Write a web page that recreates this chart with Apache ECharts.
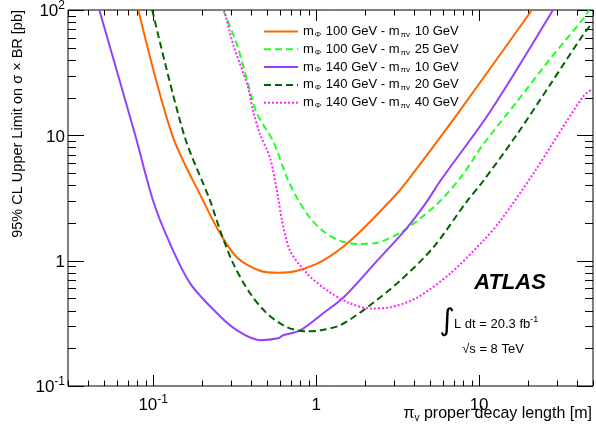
<!DOCTYPE html>
<html>
<head>
<meta charset="utf-8">
<script src="https://cdn.jsdelivr.net/npm/echarts@6/dist/echarts.min.js"></script>
<style>
html,body{margin:0;padding:0;background:#fff;}
#c{width:596px;height:437px;}
</style>
</head>
<body>
<div id="c"></div>
<script>
// ---- data (x: decay length [m], y: upper limit [pb]) ----
const mPhi100_mPi10 = [[0.081,100],[0.131,10],[0.203,2.99],[0.258,1.64],[0.327,1.06],[0.453,0.83],[0.585,0.80],[0.764,0.83],[1.10,1.0],[1.62,1.44],[2.84,2.99],[3.61,4.3],[7.33,14.7],[21.1,100]];
const mPhi100_mPi25 = [[0.269,100],[0.327,52.7],[0.394,22.3],[0.435,14.7],[0.545,8.96],[0.664,4.56],[0.764,3.16],[0.918,2.19],[1.10,1.73],[1.40,1.44],[1.79,1.36],[2.37,1.39],[3.28,1.67],[4.17,2.08],[5.77,2.99],[7.98,4.9],[10.6,8.49],[17.1,18.6],[27.3,40.8],[43.5,84.9],[47.3,100]];
const mPhi140_mPi10 = [[0.0467,100],[0.0776,10],[0.1,2.99],[0.127,1.36],[0.169,0.656],[0.247,0.379],[0.327,0.278],[0.453,0.232],[0.585,0.240],[0.628,0.254],[0.798,0.278],[1.10,0.379],[1.47,0.508],[2.37,1.0],[3.61,1.83],[4.80,2.99],[5.77,4.32],[11.7,15.5],[28.4,100]];
const mPhi140_mPi20 = [[0.0986,100],[0.155,10],[0.224,2.99],[0.258,1.73],[0.310,0.946],[0.394,0.547],[0.500,0.379],[0.664,0.294],[0.881,0.273],[1.06,0.278],[1.40,0.305],[2.06,0.424],[3.28,0.694],[5.22,1.27],[8.44,2.99],[10.6,4.32],[17.1,10.2],[27.3,25.4],[43.5,63.4],[50,80]];
const mPhi140_mPi40 = [[0.273,100],[0.310,52.7],[0.378,25.4],[0.411,15.5],[0.453,10.2],[0.522,6.57],[0.585,3.16],[0.618,2.08],[0.692,1.20],[0.881,0.789],[1.17,0.578],[1.62,0.456],[2.14,0.416],[2.84,0.424],[4.17,0.508],[6.64,0.789],[10.6,1.44],[13.5,2.08],[21.4,4.9],[43.5,20.4],[50,23.5]];

const seriesNames = ['m100_10','m100_25','m140_10','m140_20','m140_40'];
const legendPhi = ['100','100','140','140','140'];
const legendPi = ['10','25','10','20','40'];
const seriesColors = ['#ff6600','#22ff22','#9340ff','#006400','#ff22ff'];

const xRange = [0.03, 50];
const yRange = [0.1, 100];
const xLabelVals = [0.1, 1, 10];
const xLabelTexts = ['{b|10}{sup|-1}', '{b|1}', '{b|10}'];
const yLabelVals = [0.1, 1, 10, 100];
const yLabelTexts = ['{b|10}{sup|-1}', '{b|1}', '{b|10}', '{b|10}{sup|2}'];
const decades = [-2, -1, 0, 1, 2];
const multipliers = [1,2,3,4,5,6,7,8,9];

function tickList(range){
  const out = [];
  decades.forEach(d => multipliers.forEach(m => {
    const v = m * Math.pow(10, d);
    if (v >= range[0]*0.999 && v <= range[1]*1.001) out.push([v, m === 1 ? 1 : 0]);
  }));
  return out;
}
function labelFor(vals, texts){
  return function(v){
    for (let i=0;i<vals.length;i++){ if (Math.abs(Math.log10(v)-Math.log10(vals[i]))<1e-6) return texts[i]; }
    return '';
  };
}

const FONT = 'Liberation Sans, Arial, Helvetica, sans-serif';
const richLab = {
  b:{fontSize:17,fontFamily:FONT,color:'#000',lineHeight:20,verticalAlign:'bottom'},
  sup:{fontSize:12,fontFamily:FONT,color:'#000',lineHeight:20,verticalAlign:'top',padding:[0,0,7,0]}
};

const chart = echarts.init(document.getElementById('c'));

const lineTypes = ['solid',[7,4],'solid',[7,4],[2,2]];
const dataSets = [mPhi100_mPi10, mPhi100_mPi25, mPhi140_mPi10, mPhi140_mPi20, mPhi140_mPi40];

const lineSeries = dataSets.map((d,i) => ({
  name: seriesNames[i], type:'line', data:d, symbol:'none', showSymbol:false,
  smooth:0.3, clip:true, z:5,
  lineStyle:{color:seriesColors[i], width:2, type:lineTypes[i]},
  itemStyle:{color:seriesColors[i]}
}));

const xTicks = tickList(xRange).map(t => [t[0], yRange[0], t[1]]);
const yTicks = tickList(yRange).map(t => [xRange[0], t[0], t[1]]);

const tickStyle = {stroke:'#000', lineWidth:1};
const xTickSeries = {
  type:'custom', silent:true, z:3, data:xTicks, encode:{x:0,y:1},
  renderItem:function(params, api){
    const cs = params.coordSys;
    const p = api.coord([api.value(0), api.value(1)]);
    const x = Math.round(p[0]) + 0.5;
    const L = api.value(2) ? 11 : 5.5;
    const yb = cs.y + cs.height, yt = cs.y;
    return {type:'group', children:[
      {type:'line', shape:{x1:x,y1:yb,x2:x,y2:yb-L}, style:tickStyle},
      {type:'line', shape:{x1:x,y1:yt,x2:x,y2:yt+L}, style:tickStyle}
    ]};
  }
};
const yTickSeries = {
  type:'custom', silent:true, z:3, data:yTicks, encode:{x:0,y:1},
  renderItem:function(params, api){
    const cs = params.coordSys;
    const p = api.coord([api.value(0), api.value(1)]);
    const y = Math.round(p[1]) + 0.5;
    const L = api.value(2) ? 16 : 8;
    const xl = cs.x, xr = cs.x + cs.width;
    return {type:'group', children:[
      {type:'line', shape:{x1:xl,y1:y,x2:xl+L,y2:y}, style:tickStyle},
      {type:'line', shape:{x1:xr,y1:y,x2:xr-L,y2:y}, style:tickStyle}
    ]};
  }
};

chart.setOption({
  animation:false,
  backgroundColor:'#fff',
  grid:{left:68, right:3, top:8, bottom:51, show:true, borderColor:'#000', borderWidth:1, backgroundColor:'transparent'},
  xAxis:{type:'log', logBase:10, min:xRange[0], max:xRange[1],
    axisLine:{show:false}, axisTick:{show:false}, splitLine:{show:false},
    axisLabel:{margin:8, formatter:labelFor(xLabelVals, xLabelTexts), rich:richLab, showMinLabel:true, showMaxLabel:true}},
  yAxis:{type:'log', logBase:10, min:yRange[0], max:yRange[1],
    axisLine:{show:false}, axisTick:{show:false}, splitLine:{show:false},
    axisLabel:{margin:3, formatter:labelFor(yLabelVals, yLabelTexts), rich:richLab, showMinLabel:true, showMaxLabel:true}},
  legend:{
    orient:'vertical', left:263, top:25, padding:0, itemWidth:34, itemHeight:14, itemGap:4.3,
    selectedMode:false, data:seriesNames,
    itemStyle:{opacity:0},
    formatter:function(name){
      const i = seriesNames.indexOf(name);
      return '{t|m}{s|Φ}{t| ' + legendPhi[i] + ' GeV - m}{s|πv}{t| ' + legendPi[i] + ' GeV}';
    },
    textStyle:{color:'#000', fontFamily:FONT, fontSize:13, rich:{
      t:{fontSize:13, fontFamily:FONT, color:'#000', lineHeight:14, verticalAlign:'middle'},
      s:{fontSize:8, fontFamily:FONT, color:'#000', lineHeight:14, verticalAlign:'bottom', padding:[4,1,0,1]}
    }}
  },
  graphic:[
    {type:'text', x:18, y:10, rotation:Math.PI/2, style:{text:'95% CL Upper Limit on σ × BR [pb]', font:'14.5px '+FONT, fill:'#000', textAlign:'right', textVerticalAlign:'middle'}},
    {type:'text', x:592, y:414, style:{text:'{a|π}{s|v}{a| proper decay length [m]}', textAlign:'right', textVerticalAlign:'middle', rich:{
      a:{fontSize:16, fontFamily:FONT, fill:'#000', lineHeight:18, verticalAlign:'middle'},
      s:{fontSize:10, fontFamily:FONT, fill:'#000', lineHeight:18, verticalAlign:'bottom'}
    }}},
    {type:'text', x:510, y:283, style:{text:'ATLAS', font:'italic bold 22px '+FONT, fill:'#000', textAlign:'center', textVerticalAlign:'middle'}},
    {type:'text', x:447, y:322, style:{text:'∫', font:'30px DejaVu Sans', fill:'#000', textAlign:'center', textVerticalAlign:'middle'}},
    {type:'text', x:454, y:323, style:{text:'{t|L dt = 20.3 fb}{s|-1}', textAlign:'left', textVerticalAlign:'middle', rich:{
      t:{fontSize:13, fontFamily:FONT, fill:'#000', lineHeight:16, verticalAlign:'bottom'},
      s:{fontSize:9, fontFamily:FONT, fill:'#000', lineHeight:16, verticalAlign:'top', padding:[0,0,4,0]}
    }}},
    {type:'text', x:493, y:349, style:{text:'√s = 8 TeV', font:'13px '+FONT, fill:'#000', textAlign:'center', textVerticalAlign:'middle'}}
  ],
  series:[xTickSeries, yTickSeries].concat(lineSeries)
});
</script>
</body>
</html>
